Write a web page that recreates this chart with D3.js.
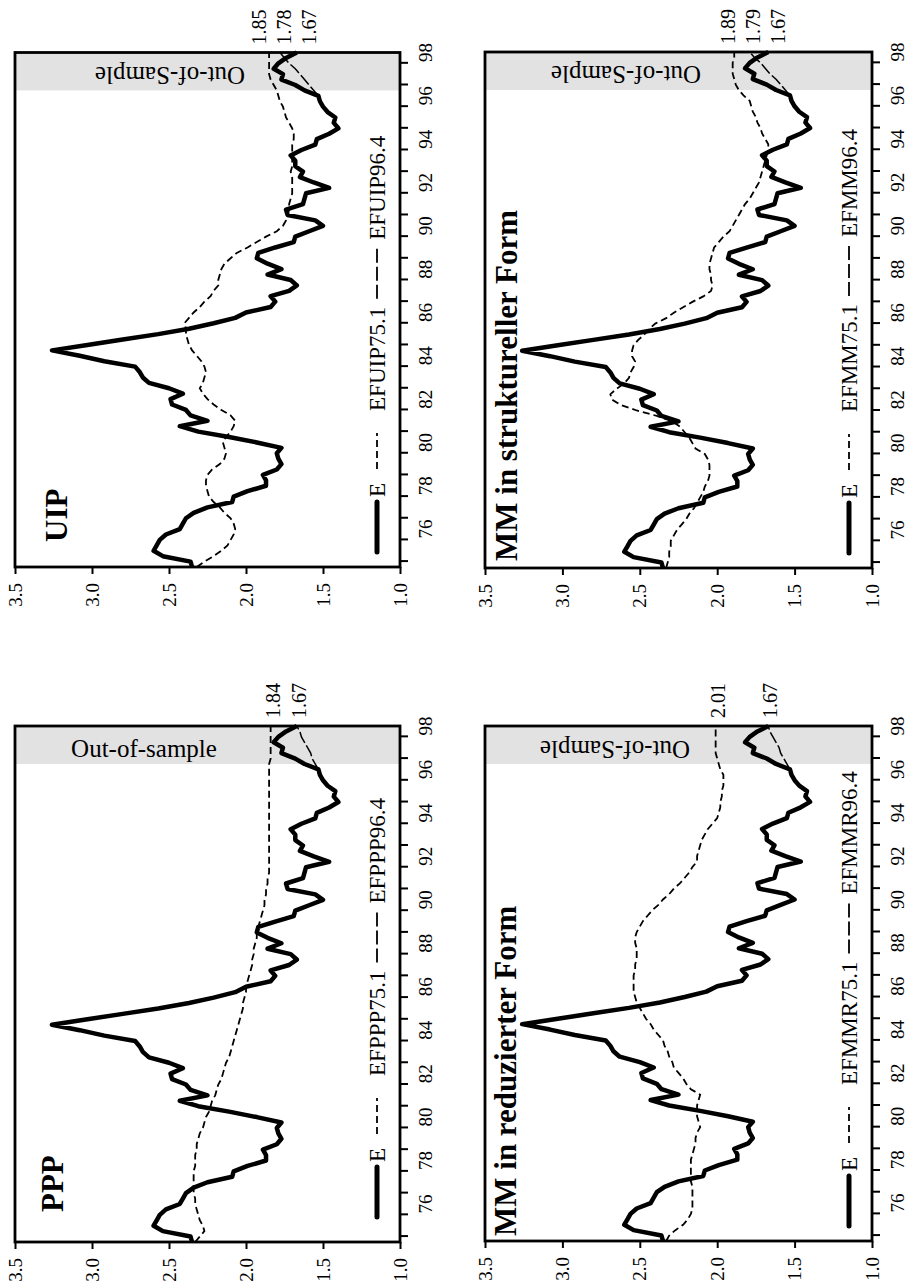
<!DOCTYPE html>
<meta charset="utf-8">
<style>
  body { margin: 0; background: #fff; }
  svg text { font-family: "Liberation Serif", "DejaVu Serif", serif; fill: #000; }
</style>
<svg width="914" height="1288"></svg>
<script src="https://cdnjs.cloudflare.com/ajax/libs/d3/7.8.5/d3.min.js"></script>
<script>
// quarterly data 1975.1 - 1998.4
var quarters = d3.range(96).map(function(i) { return 1975 + i / 4; });
var yearLabels = [76, 78, 80, 82, 84, 86, 88, 90, 92, 94, 96, 98];
var tickYears = d3.range(1975, 1999);
var valueTicks = [3.5, 3.0, 2.5, 2.0, 1.5, 1.0];

var E = [2.35, 2.36, 2.54, 2.60, 2.58, 2.56, 2.52, 2.43, 2.41, 2.39, 2.34, 2.25,
  2.09, 2.08, 1.99, 1.87, 1.87, 1.89, 1.80, 1.77, 1.79, 1.80, 1.77, 1.93,
  2.11, 2.31, 2.43, 2.25, 2.36, 2.39, 2.48, 2.49, 2.41, 2.50, 2.63, 2.67,
  2.69, 2.72, 2.92, 3.08, 3.26, 3.03, 2.80, 2.57, 2.37, 2.21, 2.07, 2.00,
  1.84, 1.81, 1.84, 1.72, 1.67, 1.71, 1.86, 1.77, 1.86, 1.93, 1.92, 1.81,
  1.69, 1.68, 1.59, 1.50, 1.55, 1.73, 1.74, 1.63, 1.62, 1.61, 1.46, 1.56,
  1.65, 1.63, 1.68, 1.68, 1.71, 1.64, 1.55, 1.54, 1.46, 1.40, 1.43, 1.42,
  1.47, 1.50, 1.52, 1.53, 1.62, 1.68, 1.77, 1.76, 1.82, 1.79, 1.74, 1.67];

var EFPPP751 = [2.33, 2.30, 2.27, 2.28, 2.30, 2.31, 2.32, 2.33, 2.33, 2.34, 2.34, 2.34,
  2.34, 2.34, 2.33, 2.33, 2.33, 2.32, 2.32, 2.31, 2.30, 2.28, 2.27, 2.26,
  2.24, 2.23, 2.22, 2.20, 2.19, 2.18, 2.16, 2.15, 2.14, 2.13, 2.11, 2.10,
  2.09, 2.08, 2.07, 2.06, 2.05, 2.04, 2.03, 2.02, 2.02, 2.01, 2.00, 2.00,
  1.99, 1.98, 1.97, 1.96, 1.96, 1.95, 1.95, 1.94, 1.93, 1.93, 1.92, 1.91,
  1.90, 1.89, 1.88, 1.88, 1.87, 1.87, 1.86, 1.86, 1.85, 1.85, 1.85, 1.85,
  1.85, 1.85, 1.85, 1.85, 1.85, 1.85, 1.85, 1.85, 1.85, 1.85, 1.85, 1.85,
  1.85, 1.85, 1.85, 1.85, 1.85, 1.84, 1.84, 1.84, 1.84, 1.84, 1.84, 1.84];

var EFUIP751 = [2.32, 2.27, 2.21, 2.16, 2.12, 2.10, 2.08, 2.07, 2.08, 2.10, 2.14, 2.17,
  2.21, 2.24, 2.25, 2.26, 2.26, 2.25, 2.22, 2.17, 2.14, 2.13, 2.14, 2.15,
  2.13, 2.10, 2.08, 2.07, 2.10, 2.16, 2.21, 2.25, 2.28, 2.30, 2.28, 2.27,
  2.26, 2.27, 2.29, 2.32, 2.35, 2.37, 2.38, 2.39, 2.39, 2.40, 2.37, 2.34,
  2.30, 2.27, 2.23, 2.21, 2.18, 2.18, 2.17, 2.16, 2.14, 2.10, 2.06, 1.99,
  1.93, 1.87, 1.80, 1.76, 1.74, 1.73, 1.72, 1.72, 1.71, 1.70, 1.70, 1.70,
  1.70, 1.71, 1.70, 1.70, 1.70, 1.70, 1.70, 1.69, 1.69, 1.70, 1.72, 1.74,
  1.75, 1.76, 1.78, 1.79, 1.80, 1.82, 1.84, 1.85, 1.85, 1.85, 1.85, 1.85];

var EFMMR751 = [2.33, 2.31, 2.27, 2.22, 2.19, 2.17, 2.16, 2.16, 2.16, 2.16, 2.16, 2.17,
  2.17, 2.17, 2.17, 2.17, 2.16, 2.15, 2.14, 2.14, 2.13, 2.11, 2.12, 2.13,
  2.13, 2.13, 2.12, 2.11, 2.17, 2.20, 2.22, 2.25, 2.28, 2.29, 2.31, 2.32,
  2.34, 2.35, 2.38, 2.41, 2.43, 2.46, 2.48, 2.50, 2.52, 2.53, 2.54, 2.54,
  2.54, 2.54, 2.53, 2.53, 2.52, 2.52, 2.52, 2.53, 2.53, 2.52, 2.50, 2.48,
  2.45, 2.42, 2.38, 2.35, 2.31, 2.28, 2.24, 2.21, 2.18, 2.16, 2.13, 2.13,
  2.12, 2.11, 2.10, 2.08, 2.06, 2.03, 2.00, 1.99, 1.98, 1.98, 1.97, 1.97,
  1.96, 1.96, 1.96, 1.98, 1.99, 2.00, 2.01, 2.01, 2.01, 2.01, 2.01, 2.01];

var EFMM751 = [2.33, 2.32, 2.31, 2.31, 2.30, 2.30, 2.28, 2.26, 2.23, 2.20, 2.18, 2.15,
  2.13, 2.11, 2.09, 2.08, 2.06, 2.05, 2.05, 2.05, 2.06, 2.08, 2.14, 2.16,
  2.18, 2.21, 2.24, 2.29, 2.39, 2.52, 2.62, 2.68, 2.69, 2.65, 2.60, 2.57,
  2.56, 2.54, 2.53, 2.55, 2.55, 2.54, 2.51, 2.47, 2.44, 2.40, 2.33, 2.28,
  2.22, 2.16, 2.09, 2.04, 2.03, 2.04, 2.04, 2.05, 2.05, 2.04, 2.03, 2.02,
  1.99, 1.96, 1.92, 1.90, 1.88, 1.86, 1.84, 1.82, 1.79, 1.77, 1.75, 1.73,
  1.72, 1.71, 1.70, 1.69, 1.68, 1.67, 1.67, 1.69, 1.71, 1.72, 1.74, 1.75,
  1.77, 1.78, 1.79, 1.83, 1.86, 1.88, 1.89, 1.90, 1.90, 1.90, 1.89, 1.89];

// forecasts from 96.4 (index 87 onwards)
var start964 = 87;
var EFPPP964 = [1.53, 1.55, 1.57, 1.58, 1.60, 1.62, 1.64, 1.65, 1.67];
var EFUIP964 = [1.53, 1.56, 1.59, 1.62, 1.65, 1.68, 1.72, 1.75, 1.78];
var EFMMR964 = [1.53, 1.55, 1.57, 1.59, 1.60, 1.62, 1.64, 1.66, 1.67];
var EFMM964 = [1.53, 1.56, 1.59, 1.62, 1.66, 1.69, 1.72, 1.76, 1.79];

var endUIP = [1.85, 1.78, 1.67];
var endPPP = [1.84, 1.67];
var endMM = [1.89, 1.79, 1.67];
var endMMR = [2.01, 1.67];

var svg = d3.select("svg");

var panels = [
  { title: "UIP", f751: EFUIP751, f964: EFUIP964, names: ["E", "EFUIP75.1", "EFUIP96.4"], ends: endUIP,
    oos: "Out-of-Sample", flip: true, left: 15, right: 400, top: 52.5, bottom: 567,
    titleU: 25, titleW: 52, legendU: 15, oosX: 155, oosDy: 14 },
  { title: "PPP", f751: EFPPP751, f964: EFPPP964, names: ["E", "EFPPP75.1", "EFPPP96.4"], ends: endPPP,
    oos: "Out-of-sample", flip: false, left: 15, right: 400, top: 726, bottom: 1242,
    titleU: 30, titleW: 48, legendU: 25, oosX: 129, oosDy: 31 },
  { title: "MM in struktureller Form", f751: EFMM751, f964: EFMM964, names: ["E", "EFMM75.1", "EFMM96.4"], ends: endMM,
    oos: "Out-of-Sample", flip: true, left: 485, right: 872, top: 52, bottom: 568,
    titleU: 7, titleW: 32, legendU: 15, oosX: 141, oosDy: 14 },
  { title: "MM in reduzierter Form", f751: EFMMR751, f964: EFMMR964, names: ["E", "EFMMR75.1", "EFMMR96.4"], ends: endMMR,
    oos: "Out-of-Sample", flip: true, left: 485, right: 872, top: 726, bottom: 1241,
    titleU: 5, titleW: 31, legendU: 15, oosX: 130, oosDy: 15 }
];

panels.forEach(drawPanel);

function drawPanel(p) {
  var W = p.bottom - p.top,
    H = p.right - p.left;

  // chart drawn upright in local coords, then turned on its side
  var g = svg.append("g")
    .attr("transform", "translate(" + p.left + "," + p.bottom + ") rotate(-90)");

  var x = d3.scaleLinear().domain([1975, 1998.75]).range([0, W]);
  var y = d3.scaleLinear().domain([3.5, 1.0]).range([0, H]);

  // out-of-sample band
  g.append("rect")
    .attr("x", x(1997))
    .attr("y", 0)
    .attr("width", W - x(1997))
    .attr("height", H)
    .attr("fill", "#e2e2e2");

  var line = d3.line()
    .x(function(d) { return x(d[0]); })
    .y(function(d) { return y(d[1]); });

  g.append("path")
    .datum(quarters.map(function(q, i) { return [q, p.f751[i]]; }))
    .attr("fill", "none")
    .attr("stroke", "#000")
    .attr("stroke-width", 1.8)
    .attr("stroke-dasharray", "7,4")
    .attr("d", line);

  g.append("path")
    .datum(p.f964.map(function(v, i) { return [quarters[start964 + i], v]; }))
    .attr("fill", "none")
    .attr("stroke", "#000")
    .attr("stroke-width", 1.5)
    .attr("stroke-dasharray", "12,3")
    .attr("d", line);

  g.append("path")
    .datum(quarters.map(function(q, i) { return [q, E[i]]; }))
    .attr("fill", "none")
    .attr("stroke", "#000")
    .attr("stroke-width", 4.5)
    .attr("stroke-linejoin", "round")
    .attr("d", line);

  // year axis (original bottom)
  var xa = g.append("g")
    .attr("transform", "translate(0," + H + ")")
    .call(d3.axisBottom(x)
      .tickValues(tickYears.map(function(t) { return t + 0.25; }))
      .tickSize(8)
      .tickSizeOuter(0)
      .tickFormat(""));
  xa.select(".domain").remove();
  xa.selectAll("line").attr("stroke-width", 2);

  g.selectAll(".ylab")
    .data(yearLabels)
    .enter().append("text")
    .attr("class", "ylab")
    .attr("x", function(d) { return x(1900 + d + 0.75); })
    .attr("y", H + 32)
    .attr("text-anchor", "middle")
    .style("font-size", "19px")
    .text(function(d) { return d; });

  // value axis (original left)
  var ya = g.append("g")
    .call(d3.axisLeft(y)
      .tickValues(valueTicks)
      .tickSize(7)
      .tickPadding(9)
      .tickFormat(d3.format(".1f")));
  ya.select(".domain").remove();
  ya.selectAll("line").attr("stroke-width", 2);
  ya.selectAll("text")
    .style("font-family", "Liberation Serif")
    .style("font-size", "19px");

  // frame
  g.append("rect")
    .attr("width", W)
    .attr("height", H)
    .attr("fill", "none")
    .attr("stroke", "#000")
    .attr("stroke-width", 2.8);

  // title
  g.append("text")
    .attr("x", p.titleU)
    .attr("y", p.titleW)
    .style("font-size", "31px")
    .style("font-weight", "bold")
    .text(p.title);

  // legend
  var lw = H - 15, u = p.legendU;
  var leg = g.append("g");
  leg.append("line").attr("x1", u).attr("x2", u + 50).attr("y1", lw - 8).attr("y2", lw - 8)
    .attr("stroke", "#000").attr("stroke-width", 5).attr("stroke-linecap", "round");
  u += 55;
  var t = leg.append("text").attr("x", u).attr("y", lw).style("font-size", "23px").text(p.names[0]);
  u += t.node().getComputedTextLength() + 14;
  leg.append("line").attr("x1", u).attr("x2", u + 36).attr("y1", lw - 8).attr("y2", lw - 8)
    .attr("stroke", "#000").attr("stroke-width", 1.8).attr("stroke-dasharray", "7,4");
  u += 58;
  t = leg.append("text").attr("x", u).attr("y", lw).style("font-size", "23px").text(p.names[1]);
  u += t.node().getComputedTextLength() + 8;
  leg.append("line").attr("x1", u).attr("x2", u + 52).attr("y1", lw - 8).attr("y2", lw - 8)
    .attr("stroke", "#000").attr("stroke-width", 1.8).attr("stroke-dasharray", "14,4");
  u += 59;
  leg.append("text").attr("x", u).attr("y", lw).style("font-size", "23px").text(p.names[2]);

  // end values, spread so they do not overlap
  var labs = p.ends.map(function(v) { return { v: v, w: y(v) + 2 }; })
    .sort(function(a, b) { return a.w - b.w; });
  for (var k = 0; k < 30; k++) {
    for (var j = 1; j < labs.length; j++) {
      var gap = labs[j].w - labs[j - 1].w;
      if (gap < 25) {
        var s = (25 - gap) / 2;
        labs[j].w += s;
        labs[j - 1].w -= s;
      }
    }
  }
  g.selectAll(".endlab")
    .data(labs)
    .enter().append("text")
    .attr("class", "endlab")
    .attr("x", W + 8)
    .attr("y", function(d) { return d.w; })
    .attr("dy", "0.35em")
    .style("font-size", "20px")
    .text(function(d) { return d3.format(".2f")(d.v); });

  // out-of-sample note, placed in page coords
  var bandTop = p.top;
  svg.append("text")
    .attr("transform", "translate(" + (p.left + p.oosX) + "," + (bandTop + p.oosDy) + ")" + (p.flip ? " rotate(180)" : ""))
    .attr("text-anchor", "middle")
    .style("font-size", "25px")
    .text(p.oos);
}
</script>
